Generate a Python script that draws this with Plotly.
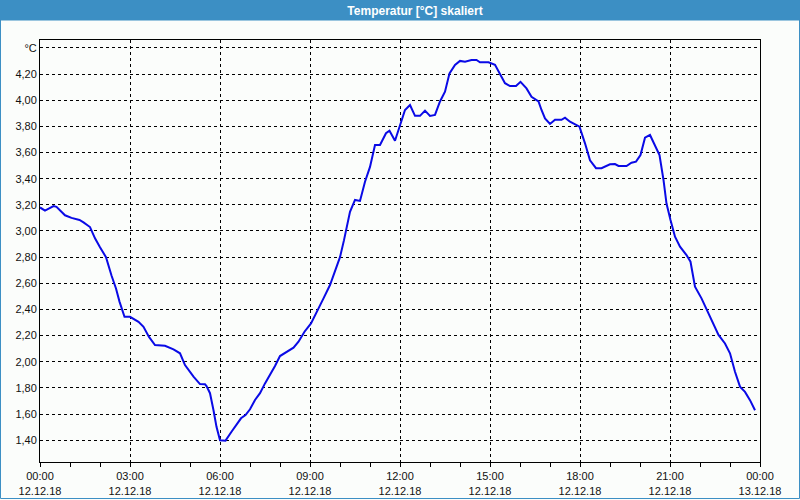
import plotly.graph_objects as go
import pandas as pd

# --- data ---
times = ["00:00", "00:10", "00:27", "00:33", "00:50", "01:03", "01:19", "01:27", "01:40", "01:50",
         "02:00", "02:12", "02:23", "02:32", "02:39", "02:49", "03:00", "03:17", "03:27", "03:38",
         "03:50", "04:10", "04:27", "04:40", "04:50", "05:07", "05:20", "05:30", "05:33", "05:40",
         "05:47", "05:53", "06:00", "06:11", "06:23", "06:33", "06:42", "06:51", "07:00", "07:10",
         "07:20", "07:30", "07:40", "07:50", "08:00", "08:10", "08:27", "08:37", "08:49", "09:02",
         "09:13", "09:27", "09:40", "09:50", "10:00", "10:08", "10:15", "10:20", "10:30", "10:40",
         "10:50", "11:00", "11:10", "11:20", "11:32", "11:39", "11:50", "12:00", "12:10", "12:20",
         "12:30", "12:40", "12:50", "13:00", "13:10", "13:20", "13:30", "13:39", "13:50", "14:00",
         "14:10", "14:23", "14:33", "14:40", "14:57", "15:10", "15:17", "15:30", "15:40", "15:52",
         "16:01", "16:13", "16:23", "16:37", "16:43", "16:50", "17:00", "17:10", "17:23", "17:30",
         "17:40", "17:59", "18:10", "18:20", "18:32", "18:43", "19:00", "19:10", "19:17", "19:33",
         "19:43", "19:52", "20:01", "20:10", "20:20", "20:30", "20:39", "20:47", "20:53", "21:01",
         "21:10", "21:20", "21:33", "21:41", "21:50", "22:03", "22:17", "22:37", "22:50", "23:00",
         "23:10", "23:20", "23:30", "23:40", "23:50"]
temps = [3.18, 3.155, 3.19, 3.185, 3.12, 3.10, 3.084, 3.066, 3.03, 2.944,
         2.875, 2.80, 2.66, 2.56, 2.46, 2.344, 2.344, 2.306, 2.268, 2.19,
         2.128, 2.123, 2.095, 2.065, 1.975, 1.886, 1.83, 1.828, 1.815, 1.76,
         1.63, 1.503, 1.40, 1.397, 1.465, 1.524, 1.568, 1.593, 1.637, 1.708,
         1.76, 1.835, 1.899, 1.968, 2.044, 2.07, 2.108, 2.154, 2.23, 2.294,
         2.375, 2.485, 2.587, 2.69, 2.80, 2.93, 3.045, 3.147, 3.237, 3.23,
         3.377, 3.49, 3.657, 3.657, 3.747, 3.767, 3.69, 3.81, 3.925, 3.963,
         3.88, 3.88, 3.92, 3.88, 3.887, 3.99, 4.065, 4.205, 4.27, 4.30,
         4.294, 4.307, 4.307, 4.29, 4.29, 4.27, 4.218, 4.13, 4.108, 4.108,
         4.14, 4.09, 4.026, 3.99, 3.925, 3.86, 3.818, 3.85, 3.85, 3.866,
         3.835, 3.797, 3.67, 3.54, 3.48, 3.48, 3.51, 3.512, 3.497, 3.497,
         3.522, 3.53, 3.58, 3.713, 3.734, 3.657, 3.58, 3.39, 3.21, 3.084,
         2.956, 2.88, 2.816, 2.765, 2.574, 2.485, 2.37, 2.205, 2.14, 2.065,
         1.924, 1.81, 1.77, 1.707, 1.63]

x_tick_vals = ["2018-12-12 00:00", "2018-12-12 03:00", "2018-12-12 06:00", "2018-12-12 09:00",
               "2018-12-12 12:00", "2018-12-12 15:00", "2018-12-12 18:00", "2018-12-12 21:00",
               "2018-12-13 00:00"]
x_tick_text = ["00:00<br>12.12.18", "03:00<br>12.12.18", "06:00<br>12.12.18", "09:00<br>12.12.18",
               "12:00<br>12.12.18", "15:00<br>12.12.18", "18:00<br>12.12.18", "21:00<br>12.12.18",
               "00:00<br>13.12.18"]
y_tick_vals = [1.4, 1.6, 1.8, 2.0, 2.2, 2.4, 2.6, 2.8, 3.0, 3.2, 3.4, 3.6, 3.8, 4.0, 4.2, 4.4]
y_tick_text = ["1,40", "1,60", "1,80", "2,00", "2,20", "2,40", "2,60", "2,80", "3,00", "3,20",
               "3,40", "3,60", "3,80", "4,00", "4,20", "°C"]
title_text = "Temperatur [°C] skaliert"

# --- layout geometry (pixels) ---
W, H = 800, 500
ML, MR, MT, MB = 40, 40, 40, 38
PW, PH = W - ML - MR, H - MT - MB

def px_x(x):
    return (x - ML) / PW

def px_y(y):
    return 1 - (y - MT) / PH

xs = ["2018-12-12 " + t for t in times]
BG = "#fbfdfb"
BLUE = "#3c8fc4"
FONT = "Liberation Sans"

fig = go.Figure()
fig.add_trace(go.Scatter(x=xs, y=temps, mode="lines",
                         line=dict(color="#0a0ae6", width=2), hoverinfo="skip"))

minor_vals = [d.strftime("%Y-%m-%d %H:%M") for d in
              pd.date_range("2018-12-12 00:00", "2018-12-13 00:00", freq="1h")]

fig.update_layout(
    width=W, height=H,
    margin=dict(l=ML, r=MR, t=MT, b=MB, autoexpand=False),
    paper_bgcolor=BG, plot_bgcolor=BG,
    showlegend=False,
    font=dict(family=FONT, size=11, color="#111111"),
    title=dict(text="<b>" + title_text + "</b>", x=415 / W, xref="container",
               y=1 - 10.5 / H, yref="container", xanchor="center", yanchor="middle",
               font=dict(family=FONT, size=12, color="white")),
    xaxis=dict(
        type="date",
        range=["2018-12-12 00:00", "2018-12-13 00:00"],
        tickmode="array", tickvals=x_tick_vals, ticktext=x_tick_text,
        ticks="outside", ticklen=4, tickcolor="black", tickwidth=1,
        showline=True, linecolor="black", linewidth=1, mirror=True,
        showgrid=True, gridcolor="black", gridwidth=1, griddash="3px,3px",
        zeroline=False,
        minor=dict(tickvals=minor_vals, ticks="outside", ticklen=4,
                   tickcolor="black", showgrid=False),
        tickfont=dict(family=FONT, size=11, color="#111111"),
        fixedrange=True,
    ),
    yaxis=dict(
        range=[1.234, 4.46],
        tickmode="array", tickvals=y_tick_vals, ticktext=y_tick_text,
        ticks="", showline=True, linecolor="black", linewidth=1, mirror=True,
        showgrid=True, gridcolor="black", gridwidth=1, griddash="3px,3px",
        zeroline=False,
        tickfont=dict(family=FONT, size=11, color="#111111"),
        fixedrange=True,
    ),
    shapes=[
        dict(type="rect", xref="paper", yref="paper",
             x0=px_x(0), x1=px_x(W), y0=px_y(20), y1=px_y(0),
             fillcolor=BLUE, line=dict(width=0), layer="below"),
        dict(type="rect", xref="paper", yref="paper",
             x0=px_x(0.5), x1=px_x(W - 0.5), y0=px_y(H - 1.5), y1=px_y(20),
             fillcolor="rgba(0,0,0,0)", line=dict(color=BLUE, width=1)),
    ],
)

fig.write_html("out.html")
